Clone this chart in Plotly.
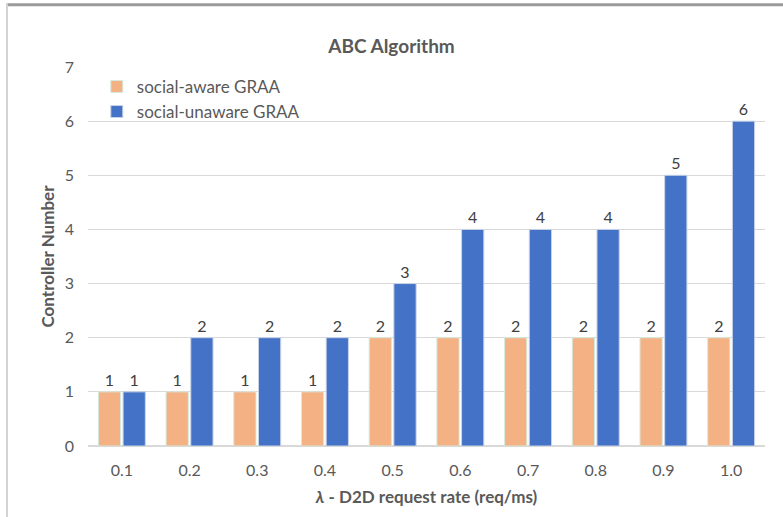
import plotly.graph_objects as go

# Request rates (x categories) and number of controllers for each scheme
rates = ["0.1", "0.2", "0.3", "0.4", "0.5", "0.6", "0.7", "0.8", "0.9", "1.0"]
social_aware = [1, 1, 1, 1, 2, 2, 2, 2, 2, 2]
social_unaware = [1, 2, 2, 2, 3, 4, 4, 4, 5, 6]
y_ticks = [0, 1, 2, 3, 4, 5, 6, 7]

FONT = "Lato, 'Open Sans', sans-serif"
TEXT = "#595959"

fig = go.Figure()
fig.add_trace(go.Bar(
    name="social-aware GRAA", x=rates, y=social_aware,
    marker=dict(color="#F4B183", line=dict(color="#D5EBDD", width=1)),
    text=social_aware, textposition="outside",
    textfont=dict(size=16, color="#404040", family=FONT),
    cliponaxis=False,
))
fig.add_trace(go.Bar(
    name="social-unaware GRAA", x=rates, y=social_unaware,
    marker=dict(color="#4372C6", line=dict(color="#C9D3E6", width=1)),
    text=social_unaware, textposition="outside",
    textfont=dict(size=16, color="#404040", family=FONT),
    cliponaxis=False,
))

fig.update_layout(
    width=783, height=517,
    margin=dict(l=88, r=18, t=67, b=71),
    paper_bgcolor="white", plot_bgcolor="white",
    font=dict(family=FONT, color=TEXT, size=16),
    barmode="group", bargap=0.27, bargroupgap=0.1,
    title=dict(text="<b>ABC Algorithm</b>", x=0.5, xanchor="center",
               y=1 - 46 / 517, yanchor="middle", yref="container",
               font=dict(size=19, color=TEXT, family=FONT)),
    legend=dict(x=0.013, y=0.995, xanchor="left", yanchor="top",
                bgcolor="rgba(0,0,0,0)", font=dict(size=17, color=TEXT, family=FONT),
                tracegroupgap=2),
    showlegend=True,
    xaxis=dict(
        title=dict(text="<b><i>λ</i> - D2D request rate (req/ms)</b>",
                   font=dict(size=17, color=TEXT, family=FONT), standoff=12),
        showgrid=False, showline=True, linecolor="#D9D9D9", linewidth=1,
        ticks="", tickfont=dict(size=16, color=TEXT), ticklabelstandoff=10,
    ),
    yaxis=dict(
        title=dict(text="<b>Controller Number</b>",
                   font=dict(size=17, color=TEXT, family=FONT), standoff=5),
        range=[0, 7], tickvals=y_ticks, showgrid=True, gridcolor="#D9D9D9",
        gridwidth=1, zeroline=True, zerolinecolor="#D9D9D9", showline=False,
        ticks="", tickfont=dict(size=16, color=TEXT), ticklabelstandoff=13,
    ),
    shapes=[
        # frame edges along the top and left of the chart area
        dict(type="line", xref="paper", yref="paper", x0=-0.12, x1=1.03,
             y0=1.164, y1=1.164, line=dict(color="#9A9A9A", width=3)),
        dict(type="line", xref="paper", yref="paper", x0=-0.1196, x1=-0.1196,
             y0=1.168, y1=-0.2, line=dict(color="#D3D3D3", width=2)),
    ],
)

fig.write_html("out.html")
